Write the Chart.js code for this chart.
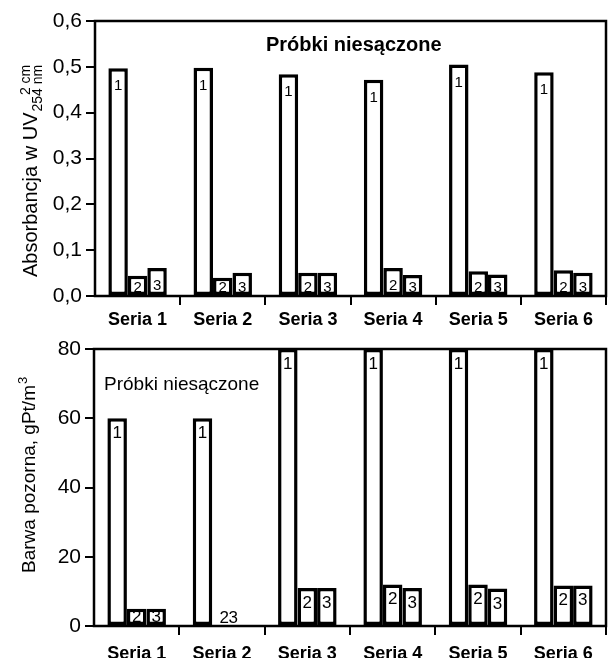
<!DOCTYPE html>
<html>
<head>
<meta charset="utf-8">
<script src="https://cdn.jsdelivr.net/npm/chart.js@4/dist/chart.umd.min.js"></script>
<style>
html, body { margin: 0; padding: 0; background: #fff; overflow: hidden; }
#topChart { position: absolute; left: 0; top: 0; }
#bottomChart { position: absolute; left: 0; top: 330px; }
</style>
</head>
<body>
<canvas id="topChart" width="608" height="330"></canvas>
<canvas id="bottomChart" width="608" height="340"></canvas>
<script>
// dane
const categories = ["Seria 1", "Seria 2", "Seria 3", "Seria 4", "Seria 5", "Seria 6"];

const absorb1 = [0.497, 0.498, 0.484, 0.472, 0.505, 0.488];
const absorb2 = [0.044, 0.040, 0.051, 0.061, 0.054, 0.056];
const absorb3 = [0.061, 0.051, 0.051, 0.046, 0.047, 0.051];
const absorbTicks = ["0,0", "0,1", "0,2", "0,3", "0,4", "0,5", "0,6"];

const colour1 = [60, 60, 80, 80, 80, 80];
const colour2 = [5, 0, 11, 12, 12, 11.7];
const colour3 = [5, 0, 11, 11, 10.8, 11.7];
const colourTicks = ["0", "20", "40", "60", "80"];

const FONT = '"Liberation Sans", Arial, sans-serif';

// numery 1,2,3 w slupkach
const barNumbers = {
    id: "barNumbers",
    afterDatasetsDraw(chart, args, opts) {
        const ctx = chart.ctx;
        ctx.save();
        ctx.font = opts.size + "px " + FONT;
        ctx.fillStyle = "#000";
        ctx.textAlign = "center";
        ctx.textBaseline = "alphabetic";
        chart.data.datasets.forEach((ds, i) => {
            chart.getDatasetMeta(i).data.forEach((bar, j) => {
                let x = bar.x, y;
                if (ds.data[j] === 0) {
                    x = bar.x - bar.width / 2 - (i - 1) * bar.width + 12 + (i - 1) * 9;
                    y = bar.base - 3;
                } else {
                    y = Math.min(bar.y + opts.offset, bar.base - 3);
                }
                ctx.fillText(String(i + 1), x, y);
            });
        });
        ctx.restore();
    }
};

// ramka wokol obszaru wykresu
const frame = {
    id: "frame",
    afterDatasetsDraw(chart) {
        const a = chart.chartArea, ctx = chart.ctx;
        ctx.save();
        ctx.strokeStyle = "#000";
        ctx.lineWidth = 2.5;
        ctx.strokeRect(a.left, a.top, a.right - a.left, a.bottom - a.top);
        ctx.restore();
    }
};

// podpisy osi Y i napis w srodku
const topTexts = {
    id: "topTexts",
    afterDraw(chart) {
        const ctx = chart.ctx;
        ctx.save();
        ctx.fillStyle = "#000";
        ctx.font = "bold 20px " + FONT;
        ctx.fillText("Próbki niesączone", 266, 51);
        ctx.translate(37, 277);
        ctx.rotate(-Math.PI / 2);
        ctx.font = "20px " + FONT;
        const main = "Absorbancja w UV";
        ctx.fillText(main, 0, 0);
        const w = ctx.measureText(main).width + 1;
        ctx.font = "14px " + FONT;
        const sw = ctx.measureText("254 nm").width;
        ctx.fillText("254 nm", w, 5);
        ctx.fillText("2 cm", w + sw - ctx.measureText("2 cm").width, -7);
        ctx.restore();
    }
};

const bottomTexts = {
    id: "bottomTexts",
    afterDraw(chart) {
        const ctx = chart.ctx;
        ctx.save();
        ctx.fillStyle = "#000";
        ctx.font = "19px " + FONT;
        ctx.fillText("Próbki niesączone", 104, 60);
        ctx.translate(35, 243);
        ctx.rotate(-Math.PI / 2);
        const main = "Barwa pozorna, gPt/m";
        ctx.fillText(main, 0, 0);
        const w = ctx.measureText(main).width + 1;
        ctx.font = "13px " + FONT;
        ctx.fillText("3", w, -8);
        ctx.restore();
    }
};

function barSet(values) {
    return {
        data: values,
        backgroundColor: "#fff",
        borderColor: "#000",
        borderWidth: 3.5,
        borderSkipped: false,
        categoryPercentage: 0.686,
        barPercentage: 1.0
    };
}

function makeChart(id, sets, yMin, yMax, yStep, yTicks, cfg) {
    return new Chart(document.getElementById(id).getContext("2d"), {
        type: "bar",
        data: {
            labels: categories,
            datasets: sets.map(barSet)
        },
        options: {
            responsive: false,
            animation: false,
            layout: { padding: { top: cfg.top, right: 2, left: 0, bottom: 0 } },
            plugins: {
                legend: { display: false },
                tooltip: { enabled: false },
                barNumbers: { size: cfg.numSize, offset: cfg.numOffset }
            },
            scales: {
                x: {
                    border: { display: false },
                    grid: {
                        drawOnChartArea: false,
                        tickLength: 9,
                        lineWidth: 2,
                        color: ctx => (ctx.index === 0 || ctx.index === categories.length) ? "rgba(0,0,0,0)" : "#000"
                    },
                    ticks: {
                        color: "#000",
                        padding: cfg.xPad,
                        maxRotation: 0,
                        font: { family: FONT, size: 18, weight: "bold" }
                    },
                    afterFit: s => { s.height = cfg.xHeight; }
                },
                y: {
                    min: yMin,
                    max: yMax,
                    border: { display: false },
                    grid: {
                        drawOnChartArea: false,
                        tickLength: 9,
                        lineWidth: 2,
                        color: "#000"
                    },
                    ticks: {
                        stepSize: yStep,
                        color: "#000",
                        padding: 4,
                        font: { family: FONT, size: 21 },
                        callback: (v, i) => yTicks[i]
                    },
                    afterFit: s => { s.width = cfg.yWidth; }
                }
            }
        },
        plugins: [barNumbers, frame, cfg.texts]
    });
}

makeChart("topChart", [absorb1, absorb2, absorb3], 0, 0.6, 0.1, absorbTicks,
    { top: 21, xHeight: 34, yWidth: 95, xPad: 4, numSize: 15, numOffset: 22, texts: topTexts });

makeChart("bottomChart", [colour1, colour2, colour3], 0, 80, 20, colourTicks,
    { top: 19, xHeight: 44, yWidth: 94, xPad: 8, numSize: 17, numOffset: 20, texts: bottomTexts });
</script>
</body>
</html>
